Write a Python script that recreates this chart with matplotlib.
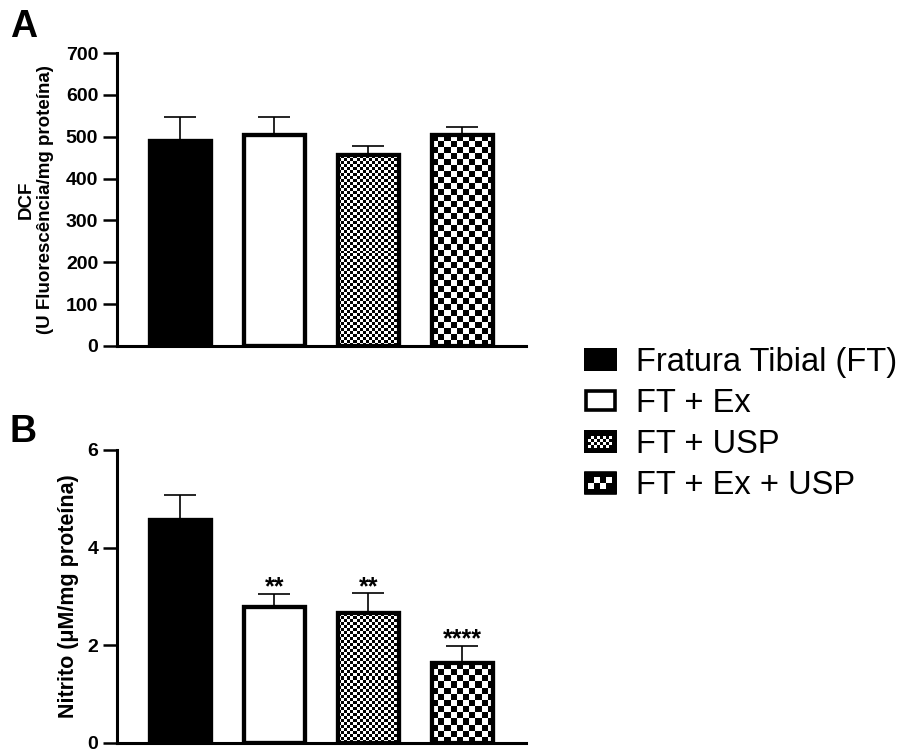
import numpy as np
import matplotlib
matplotlib.use('Agg')
import matplotlib.pyplot as plt
from matplotlib.patches import Rectangle
from matplotlib.legend_handler import HandlerBase

plt.rcParams['font.family'] = ['Liberation Sans', 'DejaVu Sans']

groups = ['Fratura Tibial (FT)', 'FT + Ex', 'FT + USP', 'FT + Ex + USP']
# checker cell size in pixels, 0 = plain fill
fills = ['black', 'white', 'white', 'white']
checker_px = [0, 0, 3, 6]

dcf_mean = [489, 504, 456, 504]
dcf_sem = [57, 44, 21, 20]
dcf_ticks = [0, 100, 200, 300, 400, 500, 600, 700]

nitrito_mean = [4.56, 2.78, 2.66, 1.63]
nitrito_sem = [0.51, 0.27, 0.40, 0.35]
nitrito_ticks = [0, 2, 4, 6]
nitrito_stars = ['', '**', '**', '****']

fig = plt.figure(figsize=(9.02, 7.51), dpi=100)
axA = fig.add_axes([0.1297, 0.5393, 0.4534, 0.3901])
axB = fig.add_axes([0.1297, 0.0113, 0.4534, 0.3895])


def checker(nx, ny):
    ii, jj = np.indices((ny, nx))
    return (ii + jj) % 2


def draw_panel(ax, mean, sem, ticks, ylabel, label_x, label_size, stars=None):
    x = np.arange(len(mean))
    ax.errorbar(x, mean, yerr=[np.zeros(len(sem)), sem], fmt='none', ecolor='black',
                elinewidth=1.2, capsize=11.5, capthick=1.2, zorder=1)
    bars = ax.bar(x, mean, width=0.65, color=fills, edgecolor='black', linewidth=3, zorder=2)
    ax.set_xlim(-0.675, 3.675)
    ax.set_ylim(0, ticks[-1])
    fig.canvas.draw()
    for b, cell in zip(bars, checker_px):
        if cell == 0:
            continue
        x0, y0 = b.get_x(), 0
        x1, y1 = b.get_x() + b.get_width(), b.get_height()
        p0 = ax.transData.transform((x0, y0))
        p1 = ax.transData.transform((x1, y1))
        nx = max(1, int(round((p1[0] - p0[0]) / cell)))
        ny = max(1, int(round((p1[1] - p0[1]) / cell)))
        im = ax.imshow(checker(nx, ny), cmap='gray', extent=(x0, x1, y0, y1),
                       aspect='auto', interpolation='nearest', zorder=2.5, origin='lower')
        im.set_clip_path(b)
    ax.bar(x, mean, width=0.65, fill=False, edgecolor='black', linewidth=3, zorder=3)
    ax.set_xlim(-0.675, 3.675)
    ax.set_ylim(0, ticks[-1])
    ax.set_yticks(ticks)
    ax.set_xticks([])
    for s in ['top', 'right']:
        ax.spines[s].set_visible(False)
    for s in ['left', 'bottom']:
        ax.spines[s].set_linewidth(2.2)
        ax.spines[s].set_zorder(4)
    ax.tick_params(axis='y', length=10, width=1.8, pad=3.5, labelsize=14)
    for t in ax.get_yticklabels():
        t.set_fontweight('bold')
    ax.set_ylabel(ylabel, fontsize=label_size, fontweight='bold', linespacing=1.15)
    ax.yaxis.set_label_coords(label_x, 0.5)
    if stars:
        for xi, m, e, s in zip(x, mean, sem, stars):
            if s:
                ax.annotate(s, (xi, m + e), xytext=(0, -4), textcoords='offset points',
                            ha='center', va='bottom', fontsize=18, fontweight='bold')


draw_panel(axA, dcf_mean, dcf_sem, dcf_ticks, 'DCF\n(U Fluorescência/mg proteína)', -0.155, 13.5)
draw_panel(axB, nitrito_mean, nitrito_sem, nitrito_ticks, 'Nitrito (μM/mg proteína)', -0.093, 15.5,
           nitrito_stars)

fig.text(10 / 902, 1 - 9 / 751, 'A', ha='left', va='top', fontsize=27, fontweight='bold')
fig.text(10 / 902, 1 - 414 / 751, 'B', ha='left', va='top', fontsize=27, fontweight='bold')


class CheckerHandler(HandlerBase):
    def __init__(self, color, cell_px):
        super().__init__()
        self.color = color
        self.cell_px = cell_px

    def create_artists(self, legend, orig_handle, xdescent, ydescent, width, height, fontsize, trans):
        x0, y0 = -xdescent, -ydescent
        arts = [Rectangle((x0, y0), width, height, facecolor=self.color, edgecolor='none',
                          transform=trans)]
        if self.cell_px:
            c = self.cell_px * 0.72
            pad = 3.0
            nx = int((width - 2 * pad) // c)
            ny = int((height - 2 * pad) // c)
            arts.append(Rectangle((x0, y0), width, height, facecolor='black', edgecolor='none',
                                  transform=trans))
            ox = x0 + (width - nx * c) / 2
            oy = y0 + (height - ny * c) / 2
            for i in range(ny):
                for j in range(nx):
                    if (i + j) % 2 == 0:
                        arts.append(Rectangle((ox + j * c, oy + i * c), c, c, facecolor='white',
                                              edgecolor='none', transform=trans))
        arts.append(Rectangle((x0 + 1.3, y0 + 1.3), width - 2.6, height - 2.6, facecolor='none',
                              edgecolor='black', linewidth=2.6, transform=trans))
        return arts


handles = [Rectangle((0, 0), 1, 1) for _ in groups]
handler_map = {h: CheckerHandler(f, c) for h, f, c in zip(handles, fills, checker_px)}
fig.legend(handles, groups, loc='upper left', bbox_to_anchor=(584 / 902, 1 - 347 / 751),
           frameon=False, fontsize=23.5, handlelength=1.0, handleheight=0.7,
           handletextpad=0.6, labelspacing=0.31, borderpad=0, borderaxespad=0,
           handler_map=handler_map)

fig.savefig('out.png', dpi=100)
